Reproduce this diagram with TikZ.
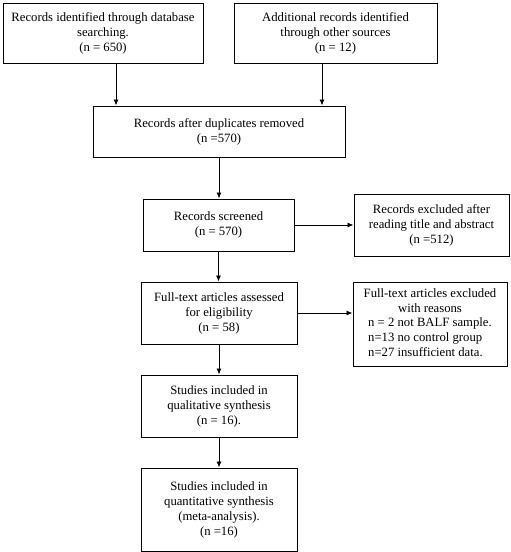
\documentclass[tikz,border=0pt]{standalone}
\usepackage{fontspec}
\setmainfont{Liberation Serif}
\usetikzlibrary{arrows.meta}
\begin{document}
\begin{tikzpicture}[x=1pt,y=1pt,
  box/.style={draw=black,line width=1pt,align=center,inner sep=0pt,
    font=\fontsize{12.7}{15}\selectfont},
  arr/.style={line width=0.9pt,-{Latex[length=6pt,width=5pt]}}]
\useasboundingbox[fill=white] (0,0) rectangle (511,-552);
\node[box,minimum width=200,minimum height=60] (b1) at (103,-33)
  {Records identified through database\\searching.\\(n = 650)};
\node[box,minimum width=203,minimum height=60] (b2) at (335.5,-33)
  {Additional records identified\\through other sources\\(n = 12)};
\node[box,minimum width=252,minimum height=51] (b3) at (219,-131.5)
  {Records after duplicates removed\\(n =570)};
\node[box,minimum width=151,minimum height=52] (sc) at (218.5,-225)
  {Records screened\\(n = 570)};
\node[box,minimum width=155,minimum height=62] (ex1) at (431.5,-225)
  {Records excluded after\\reading title and abstract\\(n =512)};
\node[box,minimum width=156,minimum height=62] (ft) at (219,-313)
  {Full-text articles assessed\\for eligibility\\(n = 58)};
\node[box,minimum width=154,minimum height=84] (ex2) at (430,-324)
  {\begin{tabular}{@{}c@{}}Full-text articles excluded\\with reasons\\[-1pt]
   \begin{tabular}{@{}l@{}}n = 2 not BALF sample.\\n=13 no control group\\n=27 insufficient data.\end{tabular}\end{tabular}};
\node[box,minimum width=156,minimum height=62] (q1) at (219,-406)
  {Studies included in\\qualitative synthesis\\(n = 16).};
\node[box,minimum width=156,minimum height=83] (q2) at (219,-509.5)
  {Studies included in\\quantitative synthesis\\(meta-analysis).\\(n =16)};
\draw[arr] ([xshift=13pt]b1.south) -- ([xshift=13pt]b1.south |- b3.north);
\draw[arr] ([xshift=-13.5pt]b2.south) -- ([xshift=-13.5pt]b2.south |- b3.north);
\draw[arr] (b3.south) -- (b3.south |- sc.north);
\draw[arr] (sc.east) -- (sc.east -| ex1.west);
\draw[arr] (sc.south) -- (sc.south |- ft.north);
\draw[arr] (ft.east) -- (ft.east -| ex2.west);
\draw[arr] (ft.south) -- (q1.north);
\draw[arr] (q1.south) -- (q2.north);
\end{tikzpicture}
\end{document}
